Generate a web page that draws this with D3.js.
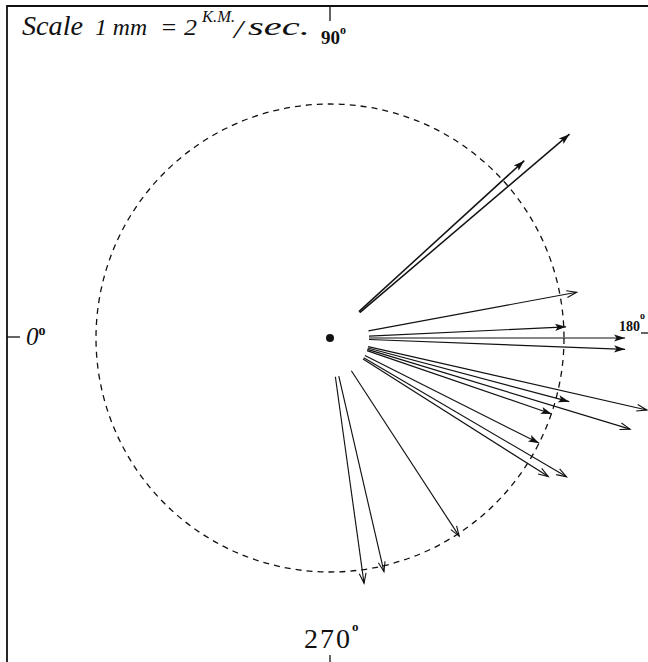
<!DOCTYPE html>
<html>
<head>
<meta charset="utf-8">
<script src="https://cdn.jsdelivr.net/npm/d3@7"></script>
<style>
  body { margin: 0; background: #fff; }
  svg { display: block; }
  text { fill: #111; }
</style>
</head>
<body>
<svg id="chart" width="648" height="662"></svg>
<script>
// direction of each vector, degrees (0 = left, 90 = up, 180 = right, 270 = down)
var angles = [139.6, 137.6, 169.5, 177.3, 180.0, 182.2, 194.9, 192.8,
              198.9, 196.9, 206.7, 212.4, 210.4, 236.9, 257.0, 262.1];
// length of each vector, as % of the dashed reference circle
var lengths = [134.4, 112.4, 107.2, 101.0, 126.1, 126.2, 105.8, 138.8,
               100.2, 134.0, 100.1, 110.5, 117.2, 101.1, 102.5, 105.8];
// head drawn solid or open
var heads = ["solid", "solid", "open", "solid", "solid", "solid", "solid", "open",
             "solid", "open", "solid", "open", "open", "open", "open", "open"];
var startOffset = 16.7;   // vectors begin a little away from the centre
var refCircle = 100;
var axisLabels = [
  { deg: 0, text: "0" },
  { deg: 90, text: "90" },
  { deg: 180, text: "180" },
  { deg: 270, text: "270" }
];

var svg = d3.select("#chart");
var cx = 330, cy = 338;

var r = d3.scaleLinear().domain([0, 100]).range([0, 234]);
// d3.pointRadial measures from 12 o'clock clockwise; ours starts at 9 o'clock
var a = d3.scaleLinear().domain([0, 360]).range([-Math.PI / 2, 1.5 * Math.PI]);

var defs = svg.append("defs");
defs.append("marker")
  .attr("id", "solid").attr("markerUnits", "userSpaceOnUse")
  .attr("viewBox", "-12 -6 14 12").attr("refX", 0).attr("refY", 0)
  .attr("markerWidth", 14).attr("markerHeight", 12).attr("orient", "auto")
  .append("path").attr("d", "M-11,-3.6L0,0L-11,3.6L-8.5,0Z").attr("fill", "#111");
defs.append("marker")
  .attr("id", "open").attr("markerUnits", "userSpaceOnUse")
  .attr("viewBox", "-12 -6 14 12").attr("refX", 0).attr("refY", 0)
  .attr("markerWidth", 14).attr("markerHeight", 12).attr("orient", "auto")
  .append("path").attr("d", "M-10,-3.4L0,0L-10,3.4")
  .attr("fill", "none").attr("stroke", "#111").attr("stroke-width", 1.1);

// frame (left and top edges of the sheet)
svg.append("path")
  .attr("d", "M7,662V6H648")
  .attr("fill", "none").attr("stroke", "#111").attr("stroke-width", 1.8);

var g = svg.append("g").attr("transform", "translate(" + cx + "," + cy + ")");

// reference circle
g.append("circle")
  .attr("r", r(refCircle))
  .attr("fill", "none").attr("stroke", "#111")
  .attr("stroke-width", 1.3).attr("stroke-dasharray", "6,5");

// centre dot
g.append("circle").attr("r", 4).attr("fill", "#111");

var vectors = angles.map(function (d, i) {
  return { angle: d, len: lengths[i], head: heads[i] };
});

g.selectAll("line.vec")
  .data(vectors)
  .enter().append("line")
  .attr("class", "vec")
  .attr("x1", function (d) { return d3.pointRadial(a(d.angle), r(startOffset))[0]; })
  .attr("y1", function (d) { return d3.pointRadial(a(d.angle), r(startOffset))[1]; })
  .attr("x2", function (d) { return d3.pointRadial(a(d.angle), r(d.len))[0]; })
  .attr("y2", function (d) { return d3.pointRadial(a(d.angle), r(d.len))[1]; })
  .attr("stroke", "#111")
  .attr("stroke-width", function (d, i) { return i < 2 ? 1.5 : 1.15; })
  .attr("marker-end", function (d) { return "url(#" + d.head + ")"; });

// compass ticks at the sheet edges
var ticks = [
  { x1: 330, y1: 6, x2: 330, y2: 21 },
  { x1: 7, y1: 337, x2: 20, y2: 337 },
  { x1: 641, y1: 333, x2: 648, y2: 333 },
  { x1: 330, y1: 655, x2: 330, y2: 662 }
];
svg.selectAll("line.tick")
  .data(ticks)
  .enter().append("line")
  .attr("class", "tick")
  .attr("x1", function (d) { return d.x1; }).attr("y1", function (d) { return d.y1; })
  .attr("x2", function (d) { return d.x2; }).attr("y2", function (d) { return d.y2; })
  .attr("stroke", "#111").attr("stroke-width", 1.3);

// degree labels
var labelPos = {
  0:   { x: 26, y: 345, size: 25, style: "italic", weight: "normal", deg: 14, dy: -10 },
  90:  { x: 321, y: 44, size: 19, style: "normal", weight: "bold", deg: 12, dy: -10 },
  180: { x: 619, y: 331, size: 14, style: "normal", weight: "bold", deg: 10, dy: -12 },
  270: { x: 304, y: 648, size: 28, style: "normal", weight: "normal", deg: 13, dy: -17 }
};
axisLabels.forEach(function (lab) {
  var p = labelPos[lab.deg];
  var t = svg.append("text")
    .attr("x", p.x).attr("y", p.y)
    .attr("font-family", "'Liberation Serif', 'DejaVu Serif', serif")
    .attr("font-size", p.size)
    .attr("font-style", p.style)
    .attr("font-weight", p.weight)
    .attr("letter-spacing", lab.deg === 270 ? 2 : 0);
  t.append("tspan").text(lab.text);
  t.append("tspan").attr("dy", p.dy).attr("font-size", p.deg)
    .attr("font-weight", "bold").attr("font-style", "normal").text("o");
});

// scale note, written in a hand-script style
var note = svg.append("g")
  .attr("font-family", "'Liberation Serif', 'DejaVu Serif', serif")
  .attr("font-style", "italic");
var noteParts = [
  { x: 22, y: 35, size: 28, w: 61, text: "Scale" },
  { x: 95, y: 35, size: 23, w: 52, text: "1 mm" },
  { x: 160, y: 35, size: 23, w: 37, text: "= 2" },
  { x: 202, y: 22, size: 16, w: 33, text: "K.M." },
  { x: 234, y: 38, size: 26, w: 9, text: "/" },
  { x: 248, y: 35, size: 26, w: 62, text: "sec." }
];
note.selectAll("text")
  .data(noteParts)
  .enter().append("text")
  .attr("x", function (d) { return d.x; })
  .attr("y", function (d) { return d.y; })
  .attr("font-size", function (d) { return d.size; })
  .attr("textLength", function (d) { return d.w; })
  .attr("lengthAdjust", "spacingAndGlyphs")
  .text(function (d) { return d.text; });
</script>
</body>
</html>
